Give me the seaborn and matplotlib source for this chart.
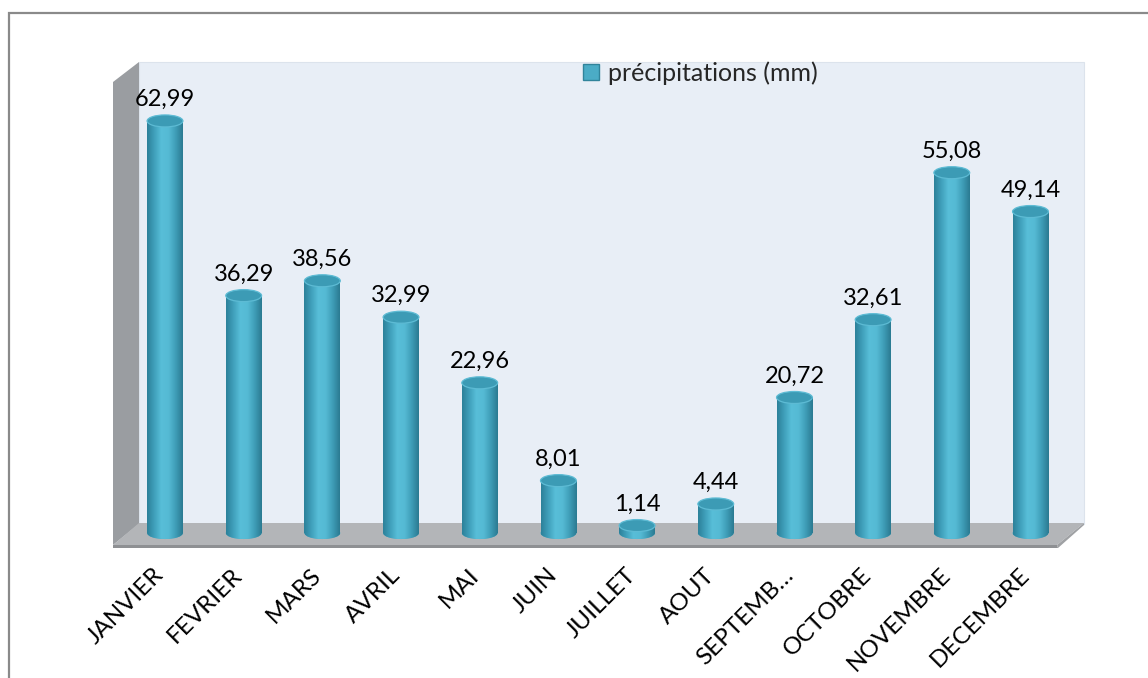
import numpy as np
import pandas as pd
import matplotlib
matplotlib.use("Agg")
import matplotlib.pyplot as plt
import seaborn as sns
from matplotlib.patches import Polygon, Ellipse, Rectangle, Patch
from matplotlib.colors import LinearSegmentedColormap
from matplotlib.transforms import ScaledTranslation

# ---------------- data ----------------
months = ["JANVIER", "FEVRIER", "MARS", "AVRIL", "MAI", "JUIN", "JUILLET",
          "AOUT", "SEPTEMBRE", "OCTOBRE", "NOVEMBRE", "DECEMBRE"]
tick_labels = ["JANVIER", "FEVRIER", "MARS", "AVRIL", "MAI", "JUIN", "JUILLET",
               "AOUT", "SEPTEMB…", "OCTOBRE", "NOVEMBRE", "DECEMBRE"]
precip = [62.99, 36.29, 38.56, 32.99, 22.96, 8.01, 1.14, 4.44, 20.72, 32.61, 55.08, 49.14]
series_name = "précipitations (mm)"

# ---------------- style ----------------
W, H = 1148, 678
sns.set_theme(style="white")
plt.rcParams["font.family"] = ["Lato", "DejaVu Sans"]
FS_VAL = 17
FS_TICK = 17.5
FS_LEG = 18
BAR = "#4BACC6"
BAR_EDGE = "#31849B"

fig = plt.figure(figsize=(W / 100, H / 100), dpi=100)
fig.patch.set_facecolor("white")

AX_L, AX_R, AX_T, AX_B = 113, 1085, 62, 545
ax = fig.add_axes([AX_L / W, 1 - AX_B / H, (AX_R - AX_L) / W, (AX_B - AX_T) / H])
ax.set_facecolor("none")


def pax(x, y):
    return ((x - AX_L) / (AX_R - AX_L), (AX_B - y) / (AX_B - AX_T))


def poly(points, **kw):
    p = Polygon([pax(*q) for q in points], closed=True, transform=ax.transAxes,
                clip_on=False, **kw)
    ax.add_patch(p)
    return p


# 3D box: back wall, left wall, floor
poly([(139, 62), (1084, 62), (1084, 524), (139, 524)], facecolor="#E8EEF6",
     edgecolor="#DCE3EC", lw=0.8, zorder=0.1)
poly([(113, 82), (139, 62), (139, 524), (113, 545)], facecolor="#9A9DA1",
     edgecolor="none", zorder=0.2)
poly([(113, 545), (1057, 545), (1084, 523), (139, 523)], facecolor="#B3B5B8",
     edgecolor="none", zorder=0.3)
poly([(113, 545), (1057, 545), (1058, 548), (113, 548)], facecolor="#8E9093",
     edgecolor="none", zorder=0.3)
poly([(1057, 545), (1084, 523), (1084, 525), (1058, 548)], facecolor="#9FA1A4",
     edgecolor="none", zorder=0.3)

# ---------------- bars ----------------
df = pd.DataFrame({"mois": months, "precip": precip})
sns.barplot(data=df, x="mois", y="precip", color=BAR, saturation=1, width=0.455,
            ax=ax, zorder=3, linewidth=0)

XLIM = (-0.661, 11.693)
YLIM = (-1.83, 72.0)
ky = (AX_B - AX_T) / (YLIM[1] - YLIM[0])  # pixels per unit
eh = 12.0 / ky  # ellipse height in data units

cyl = LinearSegmentedColormap.from_list(
    "cyl", ["#2C8099", "#3F9FBA", "#58BED8", "#55BAD4", "#3F9DB7", "#2A7A91"])
grad = np.linspace(0, 1, 256)[None, :]

bars = list(ax.containers[0])
for p, v in zip(bars, precip):
    x0, w = p.get_x(), p.get_width()
    xc = x0 + w / 2
    h = p.get_height()
    # bottom ellipse
    be = Ellipse((xc, 0), w, eh, facecolor=BAR, edgecolor="none", zorder=2.9)
    ax.add_patch(be)
    for clip in (be, p):
        im = ax.imshow(grad, extent=[x0, x0 + w, -eh, h + eh], aspect="auto",
                       cmap=cyl, zorder=3.1 if clip is p else 2.95,
                       interpolation="bicubic")
        im.set_clip_path(clip)
    # top ellipse
    te = Ellipse((xc, h), w, eh, facecolor="#3C9BB5", edgecolor="#5DBBD4",
                 lw=0.9, zorder=4)
    ax.add_patch(te)
    ax.annotate(f"{v:.2f}".replace(".", ","), (xc, h), xytext=(0, 8),
                textcoords="offset points", ha="center", va="bottom",
                fontsize=FS_VAL, color="black", zorder=5)

ax.set_xlim(*XLIM)
ax.set_ylim(*YLIM)
ax.set_xticks(range(len(months)))
ax.set_xticklabels(tick_labels, rotation=45, ha="right", va="top",
                   rotation_mode="anchor", fontsize=FS_TICK, color="black")
ax.tick_params(axis="x", length=0, pad=14)
ax.set_yticks([])
ax.set_xlabel("")
ax.set_ylabel("")
for s in ax.spines.values():
    s.set_visible(False)

shift = ScaledTranslation(-12 / 100, 0, fig.dpi_scale_trans)
for t in ax.xaxis.get_major_ticks():
    t.label1.set_transform(t.label1.get_transform() + shift)

ax.legend(handles=[Patch(facecolor=BAR, edgecolor=BAR_EDGE, label=series_name)],
          loc="center", bbox_to_anchor=pax(700, 73), bbox_transform=ax.transAxes,
          frameon=False, fontsize=FS_LEG, handlelength=0.65, handleheight=0.65,
          handletextpad=0.35, borderaxespad=0, borderpad=0)

# outer frame
fig.add_artist(Rectangle((9 / W, -0.2), 1.2, 1 - 13 / H + 0.2,
                         transform=fig.transFigure, fill=False,
                         edgecolor="#8A8A8A", lw=1.6))

fig.savefig("out.png", dpi=100)
